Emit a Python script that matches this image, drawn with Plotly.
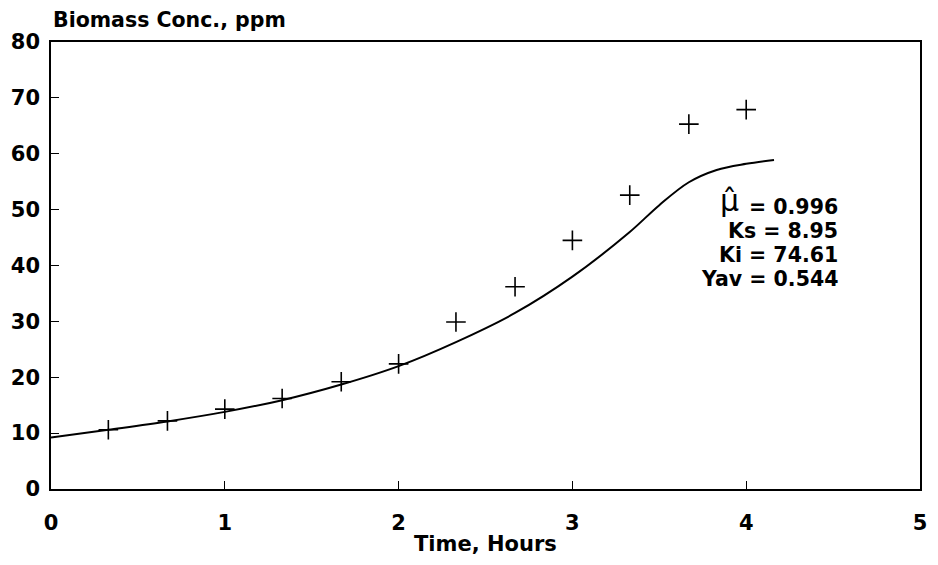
import plotly.graph_objects as go

# Measured biomass concentration (ppm) vs time (hours)
time_obs = [0.33, 0.67, 1.0, 1.33, 1.67, 2.0, 2.33, 2.67, 3.0, 3.33, 3.67, 4.0]
biomass_obs = [10.6, 12.2, 14.3, 16.2, 19.2, 22.4, 29.9, 36.2, 44.5, 52.6, 65.3, 67.9]

# Fitted model curve
time_fit = [0.0, 0.33, 0.67, 1.0, 1.33, 1.67, 2.0, 2.33, 2.67, 3.0, 3.33, 3.5, 3.67, 3.83, 4.0, 4.16]
biomass_fit = [9.2, 10.6, 12.1, 13.8, 15.9, 18.7, 22.0, 26.3, 31.5, 38.0, 46.0, 50.8, 54.9, 57.1, 58.2, 58.9]

# Fitted parameters
param_lines = ["= 0.996", "Ks = 8.95", "Ki = 74.61", "Yav = 0.544"]

x_ticks = [0, 1, 2, 3, 4, 5]
y_ticks = [0, 10, 20, 30, 40, 50, 60, 70, 80]

FONT = "DejaVu Sans, Verdana, sans-serif"

fig = go.Figure()
fig.add_trace(go.Scatter(
    x=time_fit, y=biomass_fit, mode="lines",
    line=dict(color="black", width=2, shape="spline", smoothing=1.0),
    showlegend=False, hoverinfo="skip",
))
fig.add_trace(go.Scatter(
    x=time_obs, y=biomass_obs, mode="markers",
    marker=dict(symbol="cross-thin", size=14, line=dict(color="black", width=1.6)),
    showlegend=False,
))

axis_common = dict(
    showgrid=False, zeroline=False, showline=True, linecolor="black", linewidth=1.5,
    mirror=True, ticks="inside", ticklen=8, tickwidth=1.3, tickcolor="black",
    tickfont=dict(family=FONT, size=21, color="black", weight="bold"),
)
fig.update_xaxes(range=[0, 5], tickvals=x_ticks, ticklabelstandoff=14, **axis_common)
fig.update_yaxes(range=[0, 80], tickvals=y_ticks, ticklabelstandoff=5, **axis_common)

annotations = [
    dict(text="Biomass Conc., ppm", xref="paper", yref="paper", x=0, y=1,
         xanchor="left", yanchor="middle", yshift=22, showarrow=False,
         font=dict(family=FONT, size=20.5, color="black", weight="bold")),
    dict(text="Time, Hours", xref="paper", yref="paper", x=0.5, y=0,
         xanchor="center", yanchor="middle", yshift=-55, showarrow=False,
         font=dict(family=FONT, size=21, color="black", weight="bold")),
]
line_y = [50.5, 46.1, 41.9, 37.6]
for txt, yv in zip(param_lines, line_y):
    annotations.append(dict(
        text=txt, x=4.537, y=yv, xanchor="right", yanchor="middle", showarrow=False,
        font=dict(family=FONT, size=20.5, color="black", weight="bold")))
# hand-lettered mu with a hat
annotations.append(dict(text="\u03bc\u0302", x=3.905, y=51.6, xanchor="center", yanchor="middle",
                        showarrow=False,
                        font=dict(family="DejaVu Sans", size=30, color="black")))

fig.update_layout(
    width=938, height=565,
    margin=dict(l=51, r=11, t=42, b=76),
    plot_bgcolor="white", paper_bgcolor="white",
    annotations=annotations,
)

fig.write_html("out.html")
